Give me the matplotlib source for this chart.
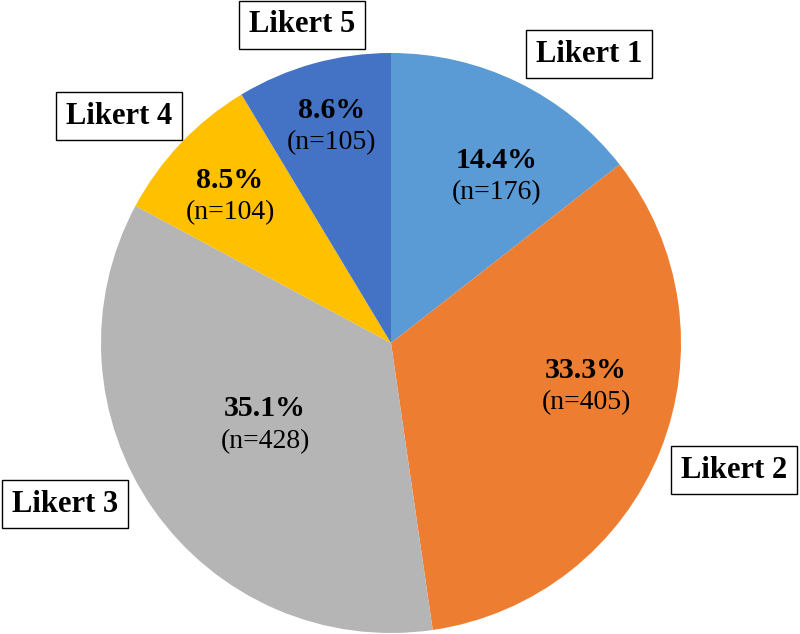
import matplotlib
matplotlib.use("Agg")
import matplotlib.pyplot as plt

labels = ["Likert 1", "Likert 2", "Likert 3", "Likert 4", "Likert 5"]
counts = [176, 405, 428, 104, 105]
percents = ["14.4%", "33.3%", "35.1%", "8.5%", "8.6%"]
colors = ["#5B9BD5", "#ED7D31", "#B5B5B5", "#FFC000", "#4472C4"]

# label positions in pixel coords (x, y from top)
box_pos = [(589, 54), (734, 470), (65, 504), (119, 116), (302, 25)]
inner_pos = [(497, 176), (586, 386), (265, 425), (230, 196), (332, 126)]

plt.rcParams["font.family"] = ["Liberation Serif", "DejaVu Serif"]

fig = plt.figure(figsize=(8, 6.34), dpi=100)
ax = fig.add_axes([0, 0, 1, 1])

# y axis is flipped below, so -90 points up and counterclock runs clockwise on screen
ax.pie(counts, colors=colors, startangle=-90, counterclock=True,
       center=(391, 343), radius=290, frame=True,
       wedgeprops=dict(linewidth=0))
ax.set_xlim(0, 800)
ax.set_ylim(634, 0)
ax.set_aspect("equal")
ax.axis("off")

for (x, y), lab in zip(box_pos, labels):
    ax.text(x, y, lab, ha="center", va="center", fontsize=22,
            fontweight="bold",
            bbox=dict(boxstyle="square,pad=0.32", facecolor="white",
                      edgecolor="black", linewidth=1.0))

for (x, y), pct, n in zip(inner_pos, percents, counts):
    ax.text(x, y - 16, pct, ha="center", va="center", fontsize=21.5,
            fontweight="bold")
    ax.text(x, y + 17, f"(n={n})", ha="center", va="center", fontsize=20)

fig.savefig("out.png", dpi=100)
